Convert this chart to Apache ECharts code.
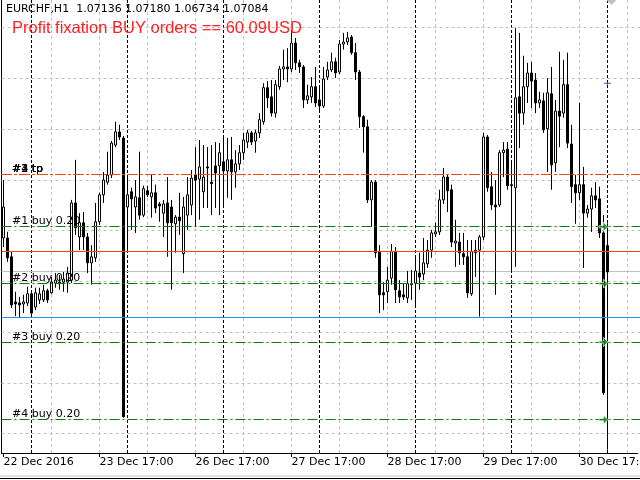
<!DOCTYPE html>
<html><head><meta charset="utf-8">
<script src="https://cdn.jsdelivr.net/npm/echarts/dist/echarts.min.js"></script>
<style>html,body{margin:0;padding:0;background:#fff}#c{width:640px;height:480px}</style>
</head><body><div id="c"></div>
<script>
const symbolName = 'EURCHF', timeframe = 'H1';
const open = [1.07151,1.07151,1.07114,1.07025,1.07023,1.07021,1.07023,1.07041,1.07015,1.07029,
1.07029,1.07047,1.07043,1.07062,1.07064,1.07064,1.07064,1.07068,1.07220,1.07153,
1.07181,1.07153,1.07102,1.07112,1.07183,1.07236,1.07261,1.07275,1.07334,1.07360,
1.07348,1.07212,1.07242,1.07212,1.07230,1.07196,1.07244,1.07232,1.07240,1.07218,
1.07200,1.07220,1.07212,1.07179,1.07192,1.07120,1.07196,1.07216,1.07275,1.07267,
1.07242,1.07291,1.07261,1.07293,1.07293,1.07301,1.07283,1.07305,1.07281,1.07297,
1.07319,1.07340,1.07358,1.07342,1.07358,1.07380,1.07447,1.07429,1.07397,1.07449,
1.07484,1.07488,1.07484,1.07535,1.07496,1.07488,1.07423,1.07429,1.07449,1.07423,
1.07411,1.07468,1.07482,1.07498,1.07478,1.07533,1.07537,1.07547,1.07516,1.07478,
1.07390,1.07370,1.07226,1.07261,1.07124,1.07043,1.07045,1.07072,1.07124,1.07047,
1.07039,1.07033,1.07059,1.07062,1.07082,1.07080,1.07100,1.07127,1.07159,1.07163,
1.07226,1.07271,1.07246,1.07141,1.07143,1.07120,1.07114,1.07041,1.07122,1.07127,
1.07153,1.07350,1.07252,1.07216,1.07216,1.07319,1.07326,1.07256,1.07250,1.07429,
1.07397,1.07449,1.07476,1.07462,1.07417,1.07421,1.07366,1.07435,1.07299,1.07401,
1.07397,1.07453,1.07336,1.07256,1.07240,1.07256,1.07200,1.07208,1.07234,1.07228,
1.07161,1.07136];
const close = [1.07212,1.07112,1.07019,1.07021,1.07019,1.07025,1.07041,1.07003,1.07043,1.07041,
1.07047,1.07029,1.07064,1.07068,1.07061,1.07070,1.07082,1.07220,1.07171,1.07181,
1.07153,1.07102,1.07114,1.07183,1.07236,1.07265,1.07275,1.07338,1.07360,1.07350,
1.06799,1.07236,1.07228,1.07232,1.07196,1.07248,1.07236,1.07240,1.07210,1.07214,
1.07218,1.07181,1.07181,1.07192,1.07185,1.07212,1.07236,1.07269,1.07265,1.07291,
1.07271,1.07289,1.07258,1.07279,1.07319,1.07283,1.07305,1.07281,1.07297,1.07319,
1.07344,1.07358,1.07340,1.07358,1.07384,1.07447,1.07427,1.07397,1.07453,1.07484,
1.07488,1.07484,1.07535,1.07496,1.07488,1.07423,1.07431,1.07449,1.07417,1.07411,
1.07464,1.07482,1.07498,1.07476,1.07533,1.07537,1.07545,1.07516,1.07478,1.07390,
1.07370,1.07226,1.07261,1.07122,1.07039,1.07039,1.07068,1.07124,1.07049,1.07035,
1.07035,1.07061,1.07061,1.07086,1.07074,1.07102,1.07127,1.07161,1.07163,1.07226,
1.07271,1.07244,1.07143,1.07145,1.07122,1.07114,1.07043,1.07124,1.07127,1.07153,
1.07350,1.07250,1.07216,1.07212,1.07319,1.07324,1.07254,1.07254,1.07427,1.07397,
1.07449,1.07476,1.07460,1.07417,1.07423,1.07364,1.07437,1.07295,1.07401,1.07391,
1.07453,1.07338,1.07252,1.07240,1.07256,1.07200,1.07208,1.07234,1.07226,1.07161,
1.06846,1.07084];
const low = [1.07133,1.07104,1.07013,1.06997,1.06995,1.07003,1.07017,1.06994,1.07009,1.07021,
1.07025,1.07023,1.07041,1.07053,1.07049,1.07045,1.07043,1.07062,1.07157,1.07127,
1.07127,1.07082,1.07059,1.07104,1.07177,1.07220,1.07256,1.07269,1.07330,1.07344,
1.06797,1.07127,1.07167,1.07161,1.07187,1.07192,1.07232,1.07191,1.07200,1.07183,
1.07153,1.07114,1.07049,1.07122,1.07157,1.07082,1.07167,1.07196,1.07173,1.07187,
1.07210,1.07210,1.07196,1.07210,1.07196,1.07216,1.07230,1.07226,1.07250,1.07285,
1.07305,1.07328,1.07334,1.07319,1.07348,1.07374,1.07407,1.07390,1.07388,1.07443,
1.07462,1.07458,1.07478,1.07482,1.07476,1.07407,1.07415,1.07417,1.07409,1.07399,
1.07407,1.07462,1.07478,1.07466,1.07474,1.07522,1.07531,1.07512,1.07462,1.07368,
1.07319,1.07220,1.07173,1.07112,1.07003,1.07009,1.07023,1.07059,1.07023,1.07023,
1.07029,1.07023,1.07029,1.07013,1.07049,1.07068,1.07092,1.07112,1.07153,1.07157,
1.07218,1.07202,1.07133,1.07094,1.07098,1.07098,1.07033,1.07037,1.07074,1.06996,
1.07147,1.07242,1.07206,1.07039,1.07212,1.07271,1.07246,1.07084,1.07094,1.07328,
1.07374,1.07417,1.07407,1.07397,1.07407,1.07358,1.07281,1.07246,1.07281,1.07330,
1.07388,1.07328,1.07220,1.07179,1.07226,1.07092,1.07191,1.07163,1.07210,1.07151,
1.06842,1.06734];
const high = [1.07265,1.07163,1.07124,1.07045,1.07035,1.07039,1.07055,1.07045,1.07053,1.07053,
1.07059,1.07051,1.07074,1.07082,1.07078,1.07084,1.07094,1.07226,1.07305,1.07200,
1.07202,1.07161,1.07137,1.07220,1.07240,1.07281,1.07321,1.07342,1.07380,1.07374,
1.07352,1.07271,1.07250,1.07265,1.07321,1.07254,1.07254,1.07275,1.07256,1.07222,
1.07226,1.07271,1.07226,1.07196,1.07240,1.07232,1.07271,1.07285,1.07330,1.07344,
1.07334,1.07330,1.07334,1.07340,1.07338,1.07354,1.07348,1.07350,1.07324,1.07334,
1.07358,1.07364,1.07362,1.07364,1.07397,1.07456,1.07460,1.07462,1.07462,1.07490,
1.07522,1.07525,1.07561,1.07545,1.07502,1.07492,1.07453,1.07468,1.07488,1.07447,
1.07488,1.07498,1.07516,1.07506,1.07541,1.07555,1.07557,1.07551,1.07535,1.07482,
1.07393,1.07384,1.07265,1.07265,1.07137,1.07064,1.07094,1.07139,1.07133,1.07068,
1.07062,1.07086,1.07088,1.07114,1.07122,1.07151,1.07147,1.07167,1.07181,1.07246,
1.07289,1.07275,1.07256,1.07187,1.07161,1.07161,1.07147,1.07147,1.07147,1.07157,
1.07358,1.07354,1.07281,1.07265,1.07324,1.07340,1.07340,1.07299,1.07565,1.07555,
1.07510,1.07496,1.07498,1.07476,1.07439,1.07437,1.07466,1.07488,1.07423,1.07518,
1.07502,1.07516,1.07374,1.07275,1.07417,1.07291,1.07216,1.07250,1.07261,1.07252,
1.07196,1.07180];

const tickLabels = ['22 Dec 2016','23 Dec 17:00','26 Dec 17:00','27 Dec 17:00','28 Dec 17:00','29 Dec 17:00','30 Dec 17:00'];
const tickIdx = [0,24,48,72,96,120,144];
const gridIdx = [12,24,36,48,60,72,84,96,108,120,132,144,156];
const separatorIdx = [7,31,55,79,103,127,151];
const gridPrices = [1.07565,1.07465,1.07365,1.07265,1.07165,1.07065,1.06965,1.06865,1.06765];
const orderNames = ['#1','#2','#3','#4'];
const orderLots = [0.20,0.20,0.20,0.20];
const orderOpen = [1.07173,1.07061,1.06946,1.06793];
const orderTP = [1.07277,1.07277,1.07277,1.07277];
const avgLevel = 1.07124;
const blueLevel = 1.06994;
const markerPrice = 1.07456;
const profitText = 'Profit fixation BUY orders == 60.09USD';
const nCats = 159;
const arrowIdx = 150, markerIdx = 151;

const last = open.length - 1;
const bidPrice = close[last];
const cats = [];
for (let i = 0; i < nCats; i++) cats.push(String(i));
const candles = open.map((o, i) => [o, close[i], low[i], high[i]]);
const fmt = v => v.toFixed(5);
const headText = symbolName + ',' + timeframe + '  ' + [open[last], high[last], low[last], close[last]].map(fmt).join(' ');

const FONT = 'DejaVu Sans';
const dashDot = [10, 3, 2, 3];

const bgLevels = gridPrices.map(p => ({ price: p, color: '#c0c0c0', dash: [3, 3] }))
  .concat([{ price: bidPrice, color: '#c0c0c0', dash: null }]);
const fgLevels = [];
orderNames.forEach((n, k) => fgLevels.push({ price: orderTP[k], color: '#ff4500', dash: dashDot, label: n + ' tp' }));
orderNames.forEach((n, k) => fgLevels.push({ price: orderOpen[k], color: '#008000', dash: dashDot, label: n + ' buy ' + orderLots[k].toFixed(2) }));
fgLevels.push({ price: avgLevel, color: '#ff4500', dash: null });
fgLevels.push({ price: blueLevel, color: '#1e90ff', dash: null });

function levelSeries(levels, z) {
  return {
    type: 'custom', z: z, silent: true, clip: false,
    data: levels.map(l => [0, l.price]),
    encode: { x: 0, y: 1 },
    renderItem: (params, api) => {
      const l = levels[params.dataIndex];
      const cs = params.coordSys;
      const yRaw = api.coord([0, api.value(1)])[1];
      const y = Math.floor(yRaw) + 0.5;
      const children = [{
        type: 'line',
        shape: { x1: cs.x, y1: y, x2: cs.x + cs.width + 3, y2: y },
        style: { stroke: l.color, lineWidth: 1, lineDash: l.dash || null }
      }];
      if (l.label) {
        children.push({ type: 'text', style: { x: cs.x + 10.5, y: y + 0.5, text: l.label, fill: '#000',
          font: '11px "DejaVu Sans"', verticalAlign: 'bottom', align: 'left' } });
      }
      return { type: 'group', children: children };
    }
  };
}

const chart = echarts.init(document.getElementById('c'), null, { renderer: 'canvas' });
const tickSet = new Set(tickIdx);

const option = {
  animation: false,
  backgroundColor: '#ffffff',
  grid: { left: 1.5, right: 2.5, top: 0, bottom: 27, containLabel: false, outerBoundsMode: 'none' },
  xAxis: {
    type: 'category', data: cats, boundaryGap: true,
    axisLine: { show: true, lineStyle: { color: '#000', width: 1 } },
    axisTick: { show: true, alignWithLabel: true, length: 4, interval: (i) => tickSet.has(i), lineStyle: { color: '#000' } },
    axisLabel: { show: true, interval: (i) => tickSet.has(i), align: 'left', margin: 4, hideOverlap: false,
      formatter: (v, i) => { const k = tickIdx.indexOf(Number(v)); return k >= 0 ? tickLabels[k] : ''; },
      color: '#000', fontFamily: FONT, fontSize: 11 },
    splitLine: { show: false }
  },
  yAxis: {
    type: 'value', min: 1.067274, max: 1.076198, position: 'left',
    axisLine: { show: true, onZero: false, lineStyle: { color: '#000', width: 1 } },
    axisTick: { show: false }, axisLabel: { show: false }, splitLine: { show: false }
  },
  series: [
    {
      type: 'line', data: [], silent: true, z: 1,
      markLine: {
        silent: true, symbol: ['none', 'none'], z: 1, animation: false,
        data: [].concat(
          gridIdx.map(i => ({ xAxis: i, label: { show: false }, lineStyle: { color: '#c0c0c0', type: [3, 3], width: 1 } })),
          separatorIdx.map(i => ({ xAxis: i, label: { show: false }, lineStyle: { color: '#000', type: [3, 2], width: 1 } }))
        )
      }
    },
    levelSeries(bgLevels, 1),
    {
      type: 'candlestick', data: candles, barWidth: 2, clip: false, z: 2,
      itemStyle: { color: '#ffffff', color0: '#000000', borderColor: '#000000', borderColor0: '#000000', borderWidth: 1 }
    },
    levelSeries(fgLevels, 5),
    {
      type: 'scatter', z: 6, silent: true,
      data: orderOpen.map(p => [arrowIdx, p]),
      symbol: 'path://M0,3L4,3L4,0L8,4L4,8L4,5L0,5Z', symbolSize: [9, 9],
      itemStyle: { color: '#008000', borderColor: '#ffffff', borderWidth: 0.8 }
    },
    {
      type: 'scatter', z: 6, silent: true,
      data: [[markerIdx, markerPrice]],
      symbol: 'path://M0,1H7V2H0Z M3,0H4V3H3Z', symbolSize: [7, 3],
      itemStyle: { color: '#2020a0' }
    }
  ],
  graphic: [
    { type: 'text', z: 100, style: { x: 6, y: 9, text: headText, fill: '#000', font: '11px "DejaVu Sans"', verticalAlign: 'middle' } },
    { type: 'text', z: 100, style: { x: 12, y: 28, text: profitText, fill: '#ff2020', font: '16.5px "Liberation Sans"', verticalAlign: 'middle' } },
    { type: 'polygon', z: 100, shape: { points: [[606.5, 0], [616.5, 0], [611.5, 5]] }, style: { fill: '#c0c0c0' } },
    { type: 'rect', z: 100, shape: { x: 0, y: 475, width: 640, height: 2 }, style: { fill: '#e4e4e4' } },
    { type: 'line', z: 100, shape: { x1: 0, y1: 478.5, x2: 640, y2: 478.5 }, style: { stroke: '#000', lineWidth: 1 } }
  ]
};
chart.setOption(option);
</script>
</body></html>
